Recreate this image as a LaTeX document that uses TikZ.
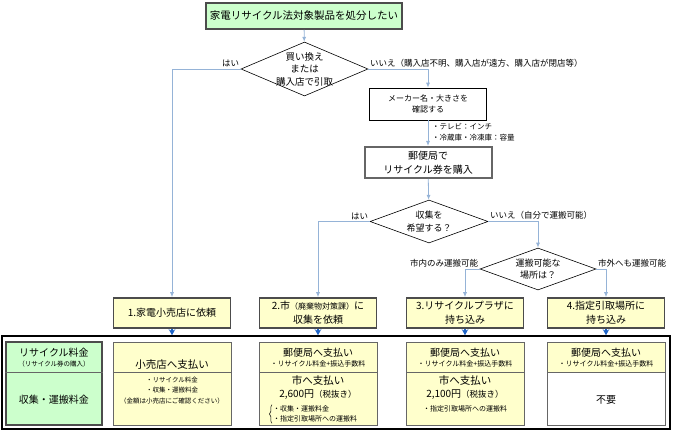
\documentclass[tikz,border=0pt]{standalone}
\usepackage{fontspec}
\newfontfamily\jpfont{Noto Sans CJK JP}
\usepackage{tikz}
\usetikzlibrary{arrows.meta, positioning, shapes.geometric, decorations.pathreplacing}
\definecolor{flowline}{RGB}{149,179,215}
\definecolor{payblue}{RGB}{30,100,200}
\definecolor{startgreen}{RGB}{204,255,204}
\definecolor{stepyellow}{RGB}{255,255,204}
\newcommand{\jpsize}[2]{\fontsize{#1}{#2}\selectfont}

\begin{document}
\begin{tikzpicture}[
    x=1pt, y=-1pt,
    every node/.style={font=\jpfont, inner sep=1pt},
    titlebox/.style={rectangle, draw=black!70, line width=1.6pt, fill=startgreen, minimum width=196pt, minimum height=26pt, font=\jpfont\jpsize{10.5}{12}},
    checkbox/.style={rectangle, draw, line width=0.6pt, align=center, minimum width=117pt, minimum height=32pt, font=\jpfont\jpsize{8}{11}},
    ticketbox/.style={rectangle, draw=black!60, line width=2pt, align=center, minimum width=127pt, minimum height=31pt, font=\jpfont\jpsize{10}{14}},
    decision/.style={diamond, draw, line width=0.6pt, inner sep=0pt},
    asktext/.style={align=center, font=\jpfont\jpsize{9}{12.5}},
    answer/.style={font=\jpfont\jpsize{8.5}{10}, inner sep=1.5pt},
    stepbox/.style={rectangle, draw=black!70, line width=1.6pt, fill=stepyellow, minimum width=117pt, minimum height=30pt, align=center, font=\jpfont\jpsize{10}{14}},
    flow/.style={draw=flowline, line width=0.8pt, -{Latex[length=5pt,width=4pt]}},
    pay/.style={draw=payblue, line width=1.4pt, -{Stealth[length=6pt,width=6.5pt]}},
    feecell/.style={rectangle, draw=black!60, line width=0.5pt, fill=stepyellow, minimum width=118pt},
    headtext/.style={font=\jpfont\jpsize{10.5}{12}},
    notetext/.style={font=\jpfont\jpsize{7}{10}, align=center},
  ]
  \useasboundingbox (0,0) rectangle (680,438);

  % flow part
  \node[titlebox] (start) at (304,16) {家電リサイクル法対象製品を処分したい};
  \node[decision, minimum width=127pt, minimum height=54pt] (q1) at (304.5,69) {};
  \node[asktext, font=\jpfont\jpsize{9.5}{12.5}] (q1t) at (q1) {買い換え\\または\\購入店で引取};
  \node[answer, anchor=south east] (yes1) at (q1.west) {はい};
  \node[answer, anchor=south west] (no1) at (q1.east) {いいえ（購入店不明、購入店が遠方、購入店が閉店等）};

  \node[checkbox] (check) at (428,104) {メーカー名・大きさを\\確認する};
  \node[anchor=west, align=left, font=\jpfont\jpsize{7.5}{11.5}] (sizenote) at (431,132) {・テレビ：インチ\\・冷蔵庫・冷凍庫：容量};
  \node[ticketbox] (ticket) at (428,162.5) {郵便局で\\リサイクル券を購入};

  \node[decision, minimum width=118pt, minimum height=43pt] (q2) at (429,221.5) {};
  \node[asktext] (q2t) at (q2) {収集を\\希望する？};
  \node[answer, anchor=south east] (yes2) at (q2.west) {はい};
  \node[answer, anchor=south west] (no2) at (q2.east) {いいえ（自分で運搬可能）};

  \node[decision, minimum width=116pt, minimum height=42pt] (q3) at (538,269) {};
  \node[asktext] (q3t) at (q3) {運搬可能な\\場所は？};
  \node[answer, anchor=south east] (inside) at (q3.west) {市内のみ運搬可能};
  \node[answer, anchor=south west] (outside) at (q3.east) {市外へも運搬可能};

  \node[stepbox] (box1) at (172,313) {1.家電小売店に依頼};
  \node[stepbox] (box2) at (318,313) {2.市{\jpsize{8}{10}（廃棄物対策課）}に\\収集を依頼};
  \node[stepbox] (box3) at (465,313) {3.リサイクルプラザに\\持ち込み};
  \node[stepbox] (box4) at (606,313) {4.指定引取場所に\\持ち込み};

  \draw[flow] (start) -- (q1);
  \draw[flow] (q1.west) -| (box1.north);
  \draw[flow] (q1.east) -| (check.north);
  \draw[flow] (check) -- (ticket);
  \draw[flow] (ticket) -- (q2);
  \draw[flow] (q2.west) -| (box2.north);
  \draw[flow] (q2.east) -| (q3.north);
  \draw[flow] (q3.west) -| (box3.north);
  \draw[flow] (q3.east) -| (box4.north);

  % fee table
  \node[rectangle, draw=black, line width=1.5pt, minimum width=668pt, minimum height=93pt] (frame) at (336,382.5) {};
  \node[rectangle, draw=black!70, line width=1.3pt, fill=startgreen, minimum width=96pt, minimum height=83pt] (feegreen) at (54,383.5) {};
  \node[feecell, minimum height=83pt] (shopcell) at (172,383.5) {};
  \node[feecell, minimum height=30pt] (post2) at (318,357) {};
  \node[feecell, minimum height=53pt] (city2) at (318,398.5) {};
  \node[feecell, minimum height=30pt] (post3) at (465,357) {};
  \node[feecell, minimum height=53pt] (city3) at (465,398.5) {};
  \node[feecell, minimum height=30pt] (post4) at (606,357) {};
  \node[feecell, minimum height=53pt, fill=white] (none4) at (606,398.5) {};
  \draw[draw=black!60, line width=0.5pt] (feegreen.west |- post2.south) -- (feegreen.east |- post2.south);
  \draw[draw=black!60, line width=0.5pt] (shopcell.west |- post2.south) -- (shopcell.east |- post2.south);

  \node[headtext, font=\jpfont\jpsize{10}{12}] (recfee) at (54,353) {リサイクル料金};
  \node[notetext, font=\jpfont\jpsize{6.5}{10}] (recnote) at (54,364) {（リサイクル券の購入）};
  \node[headtext, font=\jpfont\jpsize{10}{12}] (colfee) at (54,400) {収集・運搬料金};

  \node[headtext, fill=stepyellow, inner sep=2pt] (shoppay) at (172,365) {小売店へ支払い};
  \node[notetext, font=\jpfont\jpsize{6.5}{10.5}] (shopnote) at (172,390.5) {・リサイクル料金\\・収集・運搬料金\\（金額は小売店にご確認ください）};

  \node[headtext, font=\jpfont\jpsize{10}{12}] (post2t) at (318,353) {郵便局へ支払い};
  \node[notetext] (post2n) at (318,364) {・リサイクル料金+振込手数料};
  \node[headtext] (city2t) at (318,380) {市へ支払い};
  \node[headtext, font=\jpfont\jpsize{10}{12}] (price2) at (318,395) {2,600円{\jpsize{8.5}{10}（税抜き）}};
  \node[notetext, align=left, anchor=west] (city2n) at (272,414) {・収集・運搬料金\\・指定引取場所への運搬料};
  \draw[decorate, decoration={brace, amplitude=2.5pt}, line width=0.5pt] (city2n.south west) -- (city2n.north west);

  \node[headtext, font=\jpfont\jpsize{10}{12}] (post3t) at (465,353) {郵便局へ支払い};
  \node[notetext] (post3n) at (465,364) {・リサイクル料金+振込手数料};
  \node[headtext] (city3t) at (465,380) {市へ支払い};
  \node[headtext, font=\jpfont\jpsize{10}{12}] (price3) at (465,395) {2,100円{\jpsize{8.5}{10}（税抜き）}};
  \node[notetext] (city3n) at (465,409) {・指定引取場所への運搬料};

  \node[headtext, font=\jpfont\jpsize{10}{12}] (post4t) at (606,353) {郵便局へ支払い};
  \node[notetext] (post4n) at (606,364) {・リサイクル料金+振込手数料};
  \node[headtext, font=\jpfont\jpsize{10}{12}] (nofee) at (606,400) {不要};

  \draw[pay] (box1.south) -- (box1.south |- frame.north);
  \draw[pay] (box2.south) -- (box2.south |- frame.north);
  \draw[pay] (box3.south) -- (box3.south |- frame.north);
  \draw[pay] (box4.south) -- (box4.south |- frame.north);

\end{tikzpicture}
\end{document}
